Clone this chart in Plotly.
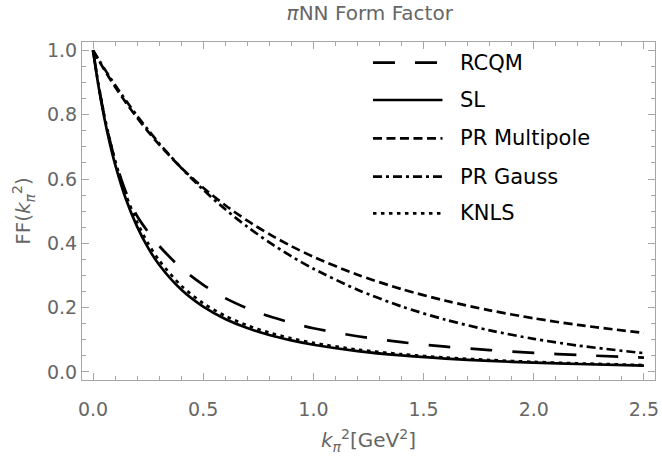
import plotly.graph_objects as go

# k_pi^2 [GeV^2] sample points
k2 = [0, 0.025, 0.05, 0.075, 0.1, 0.15, 0.2, 0.25, 0.3, 0.4, 0.5, 0.6, 0.7,
      0.8, 0.9, 1.0, 1.2, 1.4, 1.6, 1.8, 2.0, 2.2, 2.5]

ff_rcqm = [1.0, 0.892, 0.800, 0.724, 0.659, 0.558, 0.485, 0.435, 0.392, 0.323,
           0.271, 0.2296, 0.198, 0.173, 0.153, 0.136, 0.111, 0.0925, 0.0787,
           0.068, 0.0596, 0.0527, 0.0447]
ff_sl = [1.0, 0.8884, 0.7944, 0.7146, 0.6463, 0.5360, 0.4518, 0.3859, 0.3335,
         0.2562, 0.2030, 0.1648, 0.1364, 0.1148, 0.0980, 0.0846, 0.0649,
         0.0513, 0.0416, 0.0344, 0.0289, 0.0247, 0.0199]
ff_multipole = [1.0, 0.9700, 0.9412, 0.9135, 0.8869, 0.8367, 0.7902, 0.7471,
                0.7071, 0.6353, 0.5729, 0.5183, 0.4705, 0.4284, 0.3912, 0.3581,
                0.3024, 0.2577, 0.2214, 0.1916, 0.1669, 0.1463, 0.1213]
ff_gauss = [1.0, 0.9720, 0.9448, 0.9183, 0.8926, 0.8433, 0.7967, 0.7527,
            0.7111, 0.6348, 0.5666, 0.5057, 0.4514, 0.4029, 0.3596, 0.3210,
            0.2557, 0.2037, 0.1623, 0.1293, 0.1030, 0.0821, 0.0584]
ff_knls = [1.0, 0.8931, 0.8025, 0.7250, 0.6582, 0.5496, 0.4659, 0.3999, 0.3470,
           0.2684, 0.2138, 0.1743, 0.1448, 0.1222, 0.1045, 0.0904, 0.0696,
           0.0552, 0.0449, 0.0372, 0.0313, 0.0267, 0.0215]

series_names = ["RCQM", "SL", "PR Multipole", "PR Gauss", "KNLS"]
series_values = [ff_rcqm, ff_sl, ff_multipole, ff_gauss, ff_knls]
series_dash = ["22px,20px", "solid", "9px,4.5px", "9px,4px,3px,4px", "3.5px,4.5px"]

x_tickvals = [0, 0.5, 1.0, 1.5, 2.0, 2.5]
x_ticktext = ["0.0", "0.5", "1.0", "1.5", "2.0", "2.5"]
y_tickvals = [0, 0.2, 0.4, 0.6, 0.8, 1.0]
y_ticktext = ["0.0", "0.2", "0.4", "0.6", "0.8", "1.0"]

FONT = "DejaVu Sans"
GRAY = "#666666"
FRAME = "#a6a6a6"
LW = 2.7

fig = go.Figure()
for name, vals, dash in zip(series_names, series_values, series_dash):
    fig.add_trace(go.Scatter(x=k2, y=vals, mode="lines", name=name,
                             line=dict(color="black", width=LW, dash=dash,
                                       shape="spline", smoothing=0.8),
                             showlegend=False))

# manual legend (long line samples like the original)
leg_y = [0.9388, 0.8284, 0.7151, 0.6015, 0.4932]
for name, dash, yy in zip(series_names, series_dash, leg_y):
    fig.add_shape(type="line", xref="paper", yref="paper",
                  x0=0.5078, x1=0.6291, y0=yy, y1=yy,
                  line=dict(color="black", width=LW, dash=dash))
    fig.add_annotation(xref="paper", yref="paper", x=0.656, y=yy,
                       text=name, showarrow=False, xanchor="left",
                       yanchor="middle",
                       font=dict(family=FONT, size=21, color="black"))

axis_common = dict(
    showgrid=False, zeroline=False, showline=True, linecolor=FRAME,
    linewidth=1.2, mirror="ticks", ticks="inside", tickcolor=FRAME,
    ticklen=7, tickwidth=1, tickfont=dict(family=FONT, size=19, color=GRAY),
    ticklabeloverflow="allow",
)

fig.update_xaxes(**axis_common, range=[-0.05, 2.55], tickmode="array",
                 tickvals=x_tickvals, ticktext=x_ticktext,
                 ticklabelstandoff=12,
                 minor=dict(ticks="inside", ticklen=4, tickcolor=FRAME,
                            dtick=0.1, tick0=0, showgrid=False),
                 title=dict(text="<i>k</i><sub><i>π</i></sub><sup>2</sup>[GeV<sup>2</sup>]",
                            font=dict(family=FONT, size=20, color=GRAY),
                            standoff=14))
fig.update_yaxes(**axis_common, range=[-0.025, 1.026], tickmode="array",
                 tickvals=y_tickvals, ticktext=y_ticktext,
                 minor=dict(ticks="inside", ticklen=4, tickcolor=FRAME,
                            dtick=0.05, tick0=0, showgrid=False),
                 title=dict(text="FF(<i>k</i><sub><i>π</i></sub><sup>2</sup>)",
                            font=dict(family=FONT, size=20, color=GRAY),
                            standoff=10))

fig.update_layout(
    width=662, height=461,
    margin=dict(l=82, r=3, t=42, b=81),
    plot_bgcolor="white", paper_bgcolor="white",
    title=dict(text="<i>π</i>NN Form Factor", x=0.5585, xanchor="center",
               y=0.972, yanchor="middle",
               font=dict(family=FONT, size=20, color=GRAY)),
    font=dict(family=FONT),
)

fig.write_html("out.html")
